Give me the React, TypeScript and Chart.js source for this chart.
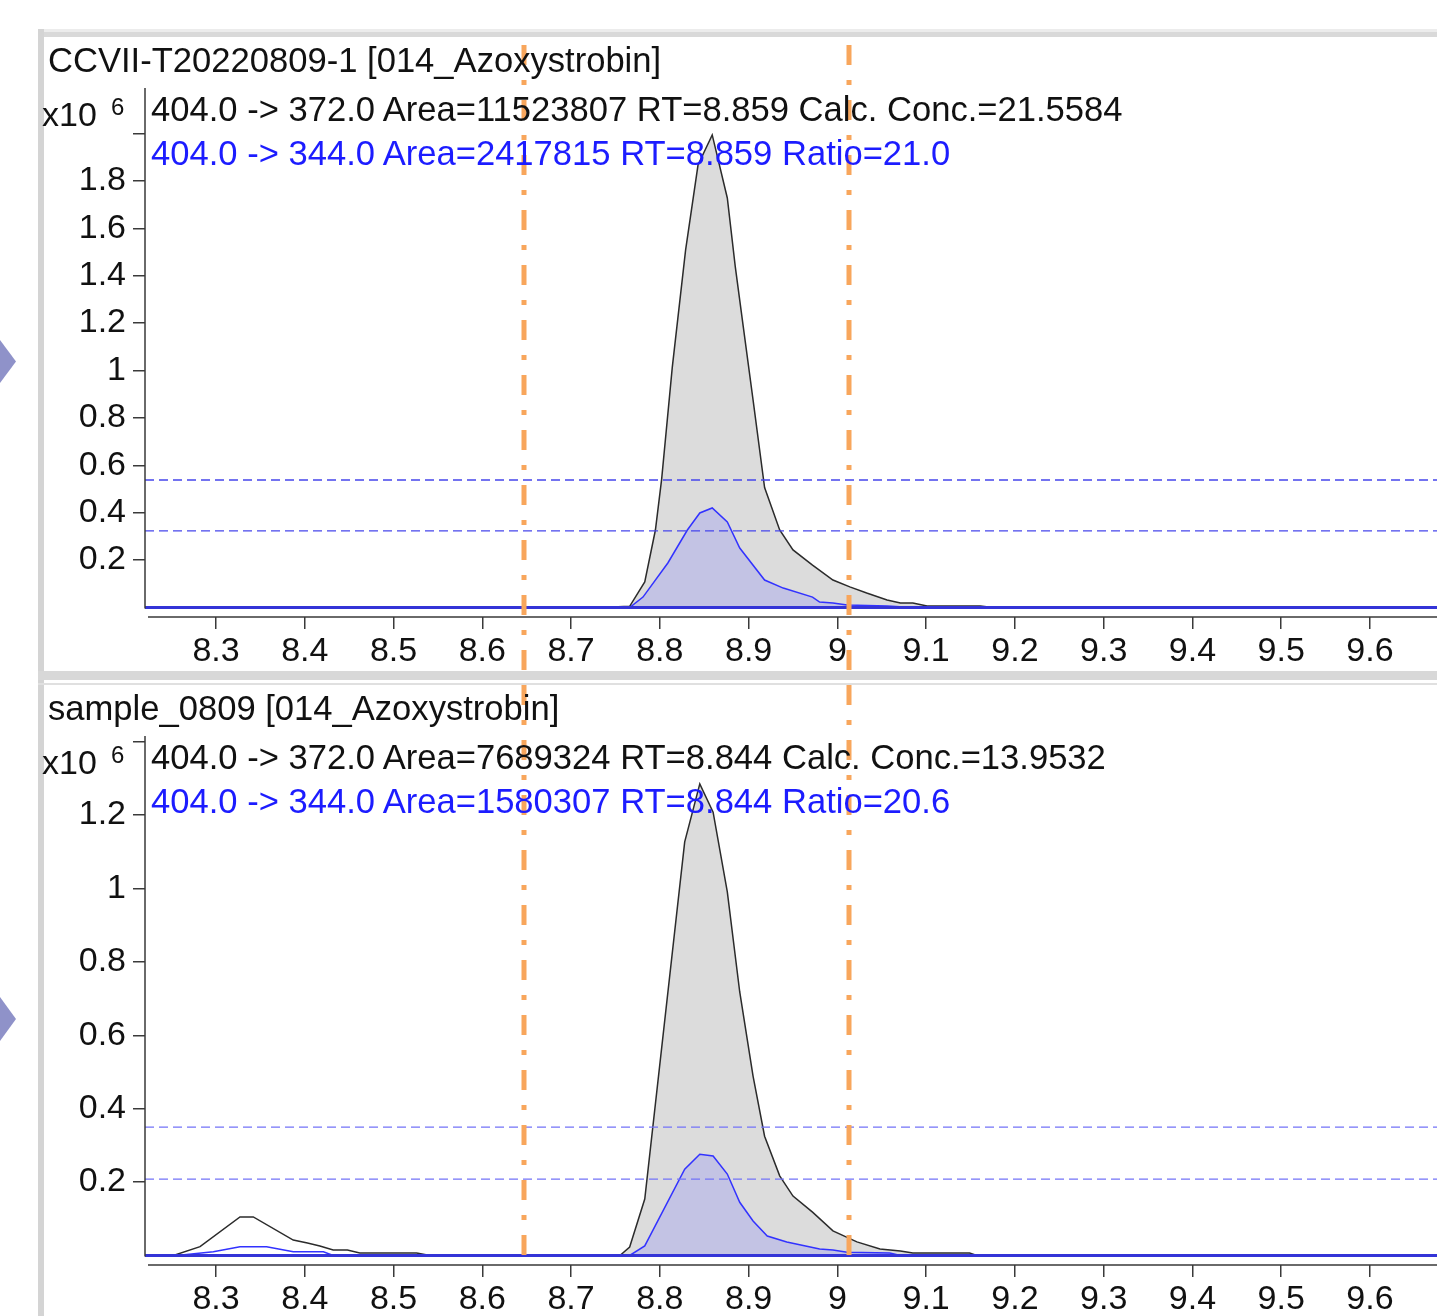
import React, { useEffect, useRef } from 'react';
import { Chart, registerables } from 'chart.js';

Chart.register(...registerables);

const FONT = '"Liberation Sans", Arial, Helvetica, sans-serif';

// ---------------- data ----------------
const xTickValues = [8.3, 8.4, 8.5, 8.6, 8.7, 8.8, 8.9, 9.0, 9.1, 9.2, 9.3, 9.4, 9.5, 9.6];
const xTickLabels = ['8.3', '8.4', '8.5', '8.6', '8.7', '8.8', '8.9', '9', '9.1', '9.2', '9.3', '9.4', '9.5', '9.6'];
const timeRange = [8.22, 9.6755];

const yTicksTop = [0.2, 0.4, 0.6, 0.8, 1.0, 1.2, 1.4, 1.6, 1.8, 2.0];
const yLabelsTop = ['0.2', '0.4', '0.6', '0.8', '1', '1.2', '1.4', '1.6', '1.8', ''];
const yTicksBottom = [0.2, 0.4, 0.6, 0.8, 1.0, 1.2, 1.4];
const yLabelsBottom = ['0.2', '0.4', '0.6', '0.8', '1', '1.2', ''];

// x10^6 counts
const topTime372 = [8.22, 8.733, 8.766, 8.783, 8.795, 8.802, 8.814, 8.829, 8.843, 8.859, 8.876, 8.885, 8.894, 8.905, 8.918, 8.935, 8.95, 8.972, 8.995, 9.014, 9.033, 9.056, 9.071, 9.085, 9.101, 9.161, 9.175, 9.68];
const topInt372 = [0, 0, 0.005, 0.108, 0.327, 0.541, 1.013, 1.508, 1.867, 1.994, 1.728, 1.437, 1.184, 0.876, 0.506, 0.327, 0.243, 0.179, 0.116, 0.087, 0.061, 0.032, 0.019, 0.019, 0.006, 0.006, 0, 0];
const topTime344 = [8.22, 8.766, 8.781, 8.809, 8.831, 8.845, 8.859, 8.876, 8.89, 8.918, 8.939, 8.972, 8.98, 8.995, 9.011, 9.056, 9.085, 9.68];
const topInt344 = [0, 0, 0.044, 0.188, 0.327, 0.399, 0.42, 0.361, 0.251, 0.116, 0.082, 0.044, 0.023, 0.019, 0.011, 0.006, 0, 0];

const bottomTime372 = [8.22, 8.252, 8.282, 8.327, 8.342, 8.387, 8.403, 8.417, 8.432, 8.448, 8.462, 8.526, 8.541, 8.755, 8.766, 8.783, 8.828, 8.845, 8.86, 8.876, 8.89, 8.905, 8.918, 8.935, 8.95, 8.972, 8.995, 9.022, 9.048, 9.071, 9.085, 9.149, 9.157, 9.68];
const bottomInt372 = [0, 0, 0.024, 0.105, 0.105, 0.042, 0.034, 0.026, 0.015, 0.015, 0.007, 0.007, 0, 0, 0.023, 0.154, 1.127, 1.285, 1.208, 0.991, 0.718, 0.489, 0.325, 0.217, 0.162, 0.118, 0.067, 0.037, 0.018, 0.012, 0.007, 0.007, 0, 0];
const bottomTime344 = [8.22, 8.256, 8.297, 8.327, 8.357, 8.387, 8.421, 8.432, 8.766, 8.783, 8.828, 8.845, 8.86, 8.876, 8.89, 8.905, 8.921, 8.943, 8.98, 8.995, 9.011, 9.059, 9.071, 9.68];
const bottomInt344 = [0, 0, 0.01, 0.024, 0.024, 0.01, 0.01, 0, 0, 0.026, 0.235, 0.276, 0.271, 0.222, 0.145, 0.094, 0.053, 0.037, 0.018, 0.015, 0.009, 0.007, 0, 0];

const topRatioLimits = [0.538, 0.323];
const bottomRatioLimits = [0.35, 0.208];
const integrationLimits = [8.647, 9.013];
const peakFillRange = [8.7, 9.2];
const topYRange = [-0.04, 2.192];
const bottomYRange = [-0.0259, 1.4155];

const topTitle = 'CCVII-T20220809-1 [014_Azoxystrobin]';
const topLine1 = '404.0 -> 372.0 Area=11523807 RT=8.859 Calc. Conc.=21.5584';
const topLine2 = '404.0 -> 344.0 Area=2417815 RT=8.859 Ratio=21.0';
const bottomTitle = 'sample_0809 [014_Azoxystrobin]';
const bottomLine1 = '404.0 -> 372.0 Area=7689324 RT=8.844 Calc. Conc.=13.9532';
const bottomLine2 = '404.0 -> 344.0 Area=1580307 RT=8.844 Ratio=20.6';

// ---------------- styles ----------------
const AXIS = '#3a3a3a';
const TEXT = '#111111';
const BLUE_TEXT = '#1c1cff';
const ORANGE = 'rgba(248,166,92,1)';
const TXT_SIZE = 34.6;

const toPoints = (t: number[], v: number[]) => t.map((x, i) => ({ x, y: v[i] }));
const inRange = (t: number[], v: number[], r: number[]) =>
  toPoints(t, v).filter((p) => p.x >= r[0] && p.x <= r[1]);

const chromPlugin = {
  id: 'chrom',
  afterDatasetsDraw(chart: any, _args: any, opts: any) {
    const { ctx, chartArea, scales } = chart;
    const xs = scales.x;
    const ys = scales.y;
    ctx.save();
    ctx.strokeStyle = AXIS;
    ctx.lineWidth = 1.5;
    ctx.beginPath();
    const y0 = ys.getPixelForValue(0);
    ctx.moveTo(chartArea.left, chartArea.top);
    ctx.lineTo(chartArea.left, y0 + 1);
    ctx.moveTo(chartArea.left + 3, chartArea.bottom);
    ctx.lineTo(chartArea.right, chartArea.bottom);
    ctx.stroke();

    ctx.strokeStyle = ORANGE;
    ctx.lineWidth = 5;
    ctx.setLineDash([20, 15, 5, 15]);
    const bottom = opts.toCanvasBottom ? chart.height : chartArea.bottom;
    for (const t of opts.limits) {
      const x = Math.round(xs.getPixelForValue(t));
      ctx.beginPath();
      ctx.moveTo(x, opts.limitTop);
      ctx.lineTo(x, bottom);
      ctx.stroke();
    }
    ctx.restore();
  },
};

interface PanelProps {
  top: number;
  height: number;
  title: string;
  line1: string;
  line2: string;
  time372: number[];
  int372: number[];
  time344: number[];
  int344: number[];
  ratioLimits: number[];
  yRange: number[];
  yTicks: number[];
  yLabels: string[];
  ratioColor: string;
  limitTop: number;
  toCanvasBottom: boolean;
}

const CANVAS_LEFT = 44;
const CANVAS_W = 1393;
const AREA_TOP = 51;
const AREA_H = 529;

function ChromPanel(p: PanelProps) {
  const ref = useRef<HTMLCanvasElement | null>(null);

  useEffect(() => {
    if (!ref.current) return;
    const xAxisH = p.height - AREA_TOP - AREA_H;
    const lineBase = { pointRadius: 0, tension: 0, fill: false };
    const datasets: any[] = [
      ...p.ratioLimits.map((v) => ({
        ...lineBase,
        data: [{ x: timeRange[0], y: v }, { x: timeRange[1], y: v }],
        borderColor: p.ratioColor,
        borderWidth: 1.3,
        borderDash: [9, 5],
      })),
      {
        ...lineBase,
        data: [{ x: timeRange[0], y: 0 }, { x: timeRange[1], y: 0 }],
        borderColor: 'rgb(52,52,215)',
        borderWidth: 3,
      },
      {
        ...lineBase,
        data: toPoints(p.time344, p.int344),
        borderColor: 'rgb(50,50,255)',
        borderWidth: 1.5,
      },
      {
        ...lineBase,
        data: inRange(p.time344, p.int344, peakFillRange),
        borderColor: 'rgba(0,0,0,0)',
        backgroundColor: 'rgb(195,195,228)',
        fill: 'origin',
      },
      {
        ...lineBase,
        data: toPoints(p.time372, p.int372),
        borderColor: '#2b2b2b',
        borderWidth: 1.5,
      },
      {
        ...lineBase,
        data: inRange(p.time372, p.int372, peakFillRange),
        borderColor: 'rgba(0,0,0,0)',
        backgroundColor: 'rgb(220,220,220)',
        fill: 'origin',
      },
    ];

    const chart = new Chart(ref.current, {
      type: 'line',
      data: { datasets },
      options: {
        animation: false,
        responsive: false,
        maintainAspectRatio: false,
        layout: { padding: { top: AREA_TOP, left: 0, right: 0, bottom: 0 } },
        plugins: {
          legend: { display: false },
          tooltip: { enabled: false },
          title: { display: false },
          chrom: { limits: integrationLimits, limitTop: p.limitTop, toCanvasBottom: p.toCanvasBottom },
        } as any,
        scales: {
          x: {
            type: 'linear',
            min: timeRange[0],
            max: timeRange[1],
            afterBuildTicks: (s: any) => {
              s.ticks = xTickValues.map((v) => ({ value: v }));
            },
            afterFit: (s: any) => {
              s.height = xAxisH;
              s.paddingLeft = 0;
              s.paddingRight = 0;
            },
            border: { display: false },
            grid: { drawOnChartArea: false, drawTicks: true, tickLength: 12, color: AXIS, lineWidth: 1.5 },
            ticks: {
              autoSkip: false,
              maxRotation: 0,
              padding: 2,
              color: TEXT,
              font: { family: FONT, size: 34 },
              callback: (_v: any, i: number) => xTickLabels[i],
            },
          },
          y: {
            type: 'linear',
            min: p.yRange[0],
            max: p.yRange[1],
            afterBuildTicks: (s: any) => {
              s.ticks = p.yTicks.map((v) => ({ value: v }));
            },
            afterFit: (s: any) => {
              s.width = 101;
              s.paddingTop = 0;
              s.paddingBottom = 0;
            },
            border: { display: false },
            grid: { drawOnChartArea: false, drawTicks: true, tickLength: 12, color: AXIS, lineWidth: 1.5 },
            ticks: {
              autoSkip: false,
              padding: 7,
              color: TEXT,
              font: { family: FONT, size: 34 },
              callback: (_v: any, i: number) => p.yLabels[i],
            },
          },
        },
      } as any,
      plugins: [chromPlugin],
    });
    return () => chart.destroy();
  }, []);

  const txt = (left: number, top: number, size: number, color: string, s: string) => (
    <div
      style={{
        position: 'absolute',
        left,
        top: p.top + top,
        fontFamily: FONT,
        fontSize: size,
        lineHeight: `${size}px`,
        color,
        whiteSpace: 'nowrap',
        zIndex: 3,
      }}
    >
      {s}
    </div>
  );

  return (
    <>
      {txt(48, 5.5, TXT_SIZE, TEXT, p.title)}
      {txt(42, 60.0, 34, TEXT, 'x10')}
      {txt(111, 57.7, 24, TEXT, '6')}
      {txt(151, 54.5, TXT_SIZE, TEXT, p.line1)}
      {txt(151, 98.5, TXT_SIZE, BLUE_TEXT, p.line2)}
      <canvas
        ref={ref}
        width={CANVAS_W}
        height={p.height}
        style={{ position: 'absolute', left: CANVAS_LEFT, top: p.top, width: CANVAS_W, height: p.height, zIndex: 2, display: 'block' }}
      />
    </>
  );
}

const box = (left: number, top: number, width: number, height: number, bg: string) => (
  <div style={{ position: 'absolute', left, top, width, height, background: bg }} />
);

export default function App() {
  return (
    <div
      style={{
        position: 'absolute',
        left: 0,
        top: 0,
        width: 1437,
        height: 1316,
        overflow: 'hidden',
        background: '#ffffff',
      }}
    >
      {box(38, 29, 1399, 3, '#ececec')}
      {box(38, 32, 1399, 5, '#d9d9d9')}
      {box(38, 29, 6, 1287, '#d4d4d4')}
      {box(38, 671, 1399, 9, '#d8d8d8')}
      {box(38, 683, 1399, 2, '#e0e0e0')}
      <div
        style={{
          position: 'absolute',
          left: 0,
          top: 340,
          width: 16,
          height: 43,
          background: '#8f92c9',
          clipPath: 'polygon(0 0, 100% 50%, 0 100%)',
        }}
      />
      <div
        style={{
          position: 'absolute',
          left: 0,
          top: 997,
          width: 16,
          height: 44,
          background: '#8f92c9',
          clipPath: 'polygon(0 0, 100% 50%, 0 100%)',
        }}
      />
      <ChromPanel
        top={37}
        height={648}
        title={topTitle}
        line1={topLine1}
        line2={topLine2}
        time372={topTime372}
        int372={topInt372}
        time344={topTime344}
        int344={topInt344}
        ratioLimits={topRatioLimits}
        yRange={topYRange}
        yTicks={yTicksTop}
        yLabels={yLabelsTop}
        ratioColor="rgb(70,70,235)"
        limitTop={8}
        toCanvasBottom={true}
      />
      <ChromPanel
        top={685}
        height={631}
        title={bottomTitle}
        line1={bottomLine1}
        line2={bottomLine2}
        time372={bottomTime372}
        int372={bottomInt372}
        time344={bottomTime344}
        int344={bottomInt344}
        ratioLimits={bottomRatioLimits}
        yRange={bottomYRange}
        yTicks={yTicksBottom}
        yLabels={yLabelsBottom}
        ratioColor="rgb(115,115,248)"
        limitTop={0}
        toCanvasBottom={false}
      />
    </div>
  );
}
